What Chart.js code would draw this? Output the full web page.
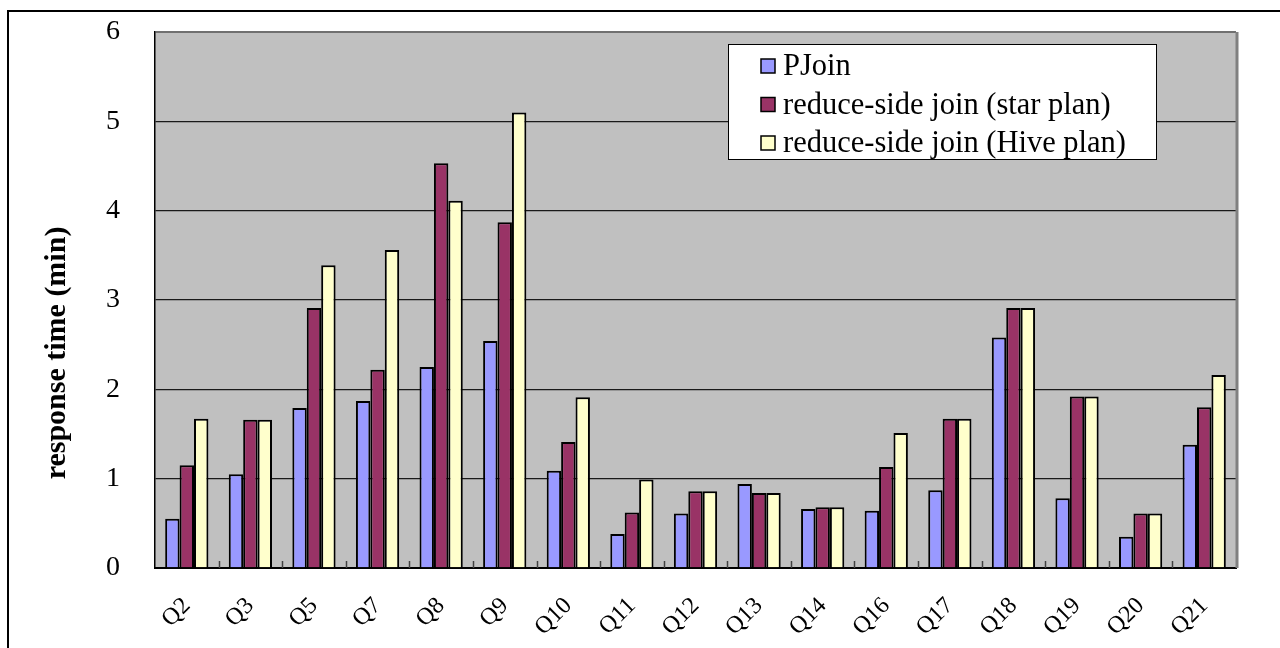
<!DOCTYPE html>
<html>
<head>
<meta charset="utf-8">
<title>Response time per query</title>
<script src="https://cdn.jsdelivr.net/npm/chart.js@4/dist/chart.umd.min.js"></script>
<style>
  html, body { margin: 0; padding: 0; background: #ffffff; }
  canvas { display: block; }
</style>
</head>
<body>
<canvas id="chart" width="1280" height="648"></canvas>
<script>
// Queries on the x axis
const categories = ['Q2','Q3','Q5','Q7','Q8','Q9','Q10','Q11','Q12','Q13','Q14','Q16','Q17','Q18','Q19','Q20','Q21'];

// Response time in minutes for each join strategy
const pjoinTimes = [0.55, 1.05, 1.79, 1.87, 2.25, 2.54, 1.09, 0.38, 0.61, 0.94, 0.66, 0.64, 0.87, 2.58, 0.78, 0.35, 1.38];
const starPlanTimes = [1.15, 1.66, 2.91, 2.22, 4.53, 3.87, 1.41, 0.62, 0.86, 0.84, 0.68, 1.13, 1.67, 2.91, 1.92, 0.61, 1.80];
const hivePlanTimes = [1.67, 1.66, 3.39, 3.56, 4.11, 5.10, 1.91, 0.99, 0.86, 0.84, 0.68, 1.51, 1.67, 2.91, 1.92, 0.61, 2.16];

const seriesNames = ['PJoin', 'reduce-side join (star plan)', 'reduce-side join (Hive plan)'];
const seriesColors = ['#9999FF', '#993366', '#FFFFCC'];

// Y axis range and tick step
const yMin = 0, yMax = 6, yStep = 1;

const yTitle = 'response time (min)';
const serif = '"Liberation Serif", "Times New Roman", serif';

// Frame, plot background, legend box, axis title and inward category ticks
const decorations = {
  id: 'decorations',
  beforeDraw(chart) {
    const ctx = chart.ctx;
    const a = chart.chartArea;
    ctx.save();
    ctx.fillStyle = '#ffffff';
    ctx.fillRect(0, 0, chart.width, chart.height);
    ctx.strokeStyle = '#000000';
    ctx.lineWidth = 2;
    ctx.strokeRect(8, 11, chart.width + 20, chart.height + 20);
    ctx.fillStyle = '#C0C0C0';
    ctx.fillRect(a.left, a.top, a.right - a.left, a.bottom - a.top);
    ctx.restore();
  },
  afterDraw(chart) {
    const ctx = chart.ctx;
    const a = chart.chartArea;
    const xs = chart.scales.x;
    ctx.save();

    // right edge of the plot
    ctx.strokeStyle = '#808080';
    ctx.lineWidth = 3;
    ctx.beginPath();
    ctx.moveTo(a.right + 1, a.top);
    ctx.lineTo(a.right + 1, a.bottom);
    ctx.stroke();

    // small ticks between categories, pointing into the plot
    ctx.strokeStyle = '#404040';
    ctx.lineWidth = 1.5;
    const n = categories.length;
    const step = (a.right - a.left) / n;
    for (let i = 1; i < n; i++) {
      const x = Math.round(xs.getPixelForTick(i) - step / 2) + 0.5;
      ctx.beginPath();
      ctx.moveTo(x, a.bottom);
      ctx.lineTo(x, a.bottom - 7);
      ctx.stroke();
    }

    // y axis title
    ctx.fillStyle = '#000000';
    ctx.font = 'bold 30px ' + serif;
    ctx.textAlign = 'center';
    ctx.textBaseline = 'middle';
    ctx.translate(57, 353);
    ctx.rotate(-Math.PI / 2);
    ctx.fillText(yTitle, 0, 0);
    ctx.restore();

    // legend
    ctx.save();
    ctx.fillStyle = '#ffffff';
    ctx.fillRect(728, 44, 428, 115);
    ctx.strokeStyle = '#000000';
    ctx.lineWidth = 1;
    ctx.strokeRect(728.5, 44.5, 428, 115);
    const rows = [66, 104.5, 143];
    ctx.font = '30.5px ' + serif;
    ctx.textAlign = 'left';
    ctx.textBaseline = 'middle';
    chart.data.datasets.forEach((ds, i) => {
      const cy = rows[i];
      ctx.fillStyle = ds.backgroundColor;
      ctx.fillRect(761, cy - 7, 14, 14);
      ctx.strokeStyle = '#000000';
      ctx.lineWidth = 1.5;
      ctx.strokeRect(761, cy - 7, 14, 14);
      ctx.fillStyle = '#000000';
      ctx.fillText(ds.label, 783, cy + 1);
    });
    ctx.restore();
  }
};

const datasets = [pjoinTimes, starPlanTimes, hivePlanTimes].map((values, i) => ({
  label: seriesNames[i],
  data: values,
  backgroundColor: seriesColors[i],
  borderColor: '#000000',
  borderWidth: 2,
  borderSkipped: 'bottom',
  categoryPercentage: 0.68,
  barPercentage: 1.0
}));

new Chart(document.getElementById('chart'), {
  type: 'bar',
  data: { labels: categories, datasets },
  options: {
    responsive: false,
    animation: false,
    devicePixelRatio: 1,
    layout: { padding: { top: 32, right: 44, left: 0, bottom: 0 } },
    plugins: {
      legend: { display: false },
      tooltip: { enabled: false }
    },
    scales: {
      x: {
        offset: true,
        afterFit(scale) {
          scale.height = 80;
          scale.paddingTop = 0;
          scale.paddingBottom = 0;
        },
        grid: { display: false, drawTicks: false },
        border: { display: true, color: '#000000', width: 2 },
        ticks: {
          autoSkip: false,
          minRotation: 45,
          maxRotation: 45,
          padding: 24,
          color: '#000000',
          font: { family: serif, size: 24 }
        }
      },
      y: {
        min: yMin,
        max: yMax,
        afterFit(scale) {
          scale.width = 155;
          scale.paddingTop = 0;
          scale.paddingBottom = 0;
        },
        grid: {
          drawTicks: false,
          color: (c) => (c.tick && c.tick.value === yMax) ? '#707070' : '#1a1a1a',
          lineWidth: (c) => (c.tick && c.tick.value === yMax) ? 2 : 1.3
        },
        border: { display: true, color: '#000000', width: 1.5 },
        ticks: {
          stepSize: yStep,
          padding: 35,
          color: '#000000',
          font: { family: serif, size: 28 }
        }
      }
    }
  },
  plugins: [decorations]
});
</script>
</body>
</html>
